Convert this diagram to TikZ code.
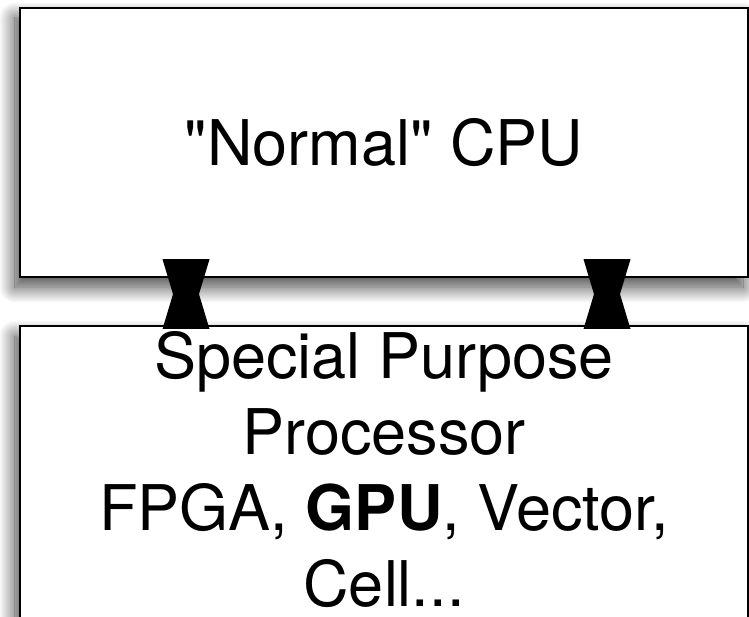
\documentclass[tikz,border=0pt]{standalone}
\usepackage{fontspec}
\setmainfont{TeX Gyre Heros}
\usepackage{tikz}
\usetikzlibrary{positioning,calc,shadows.blur}
\tikzset{
  box/.style={rectangle,draw=black,fill=white,line width=2.5pt,
              minimum width=728pt,align=center,
              font=\fontsize{63}{76}\selectfont,
              blur shadow={shadow xshift=-5pt,shadow yshift=-10pt,
                           shadow blur radius=16pt,shadow blur steps=20,
                           shadow opacity=75}},
  link/.style={fill=black},
}

\begin{document}
\begin{tikzpicture}[x=1pt,y=1pt]
  \useasboundingbox (0,0) rectangle (749,-617);
  \node[box,minimum height=269pt] (cpu) at (384,-142.5) {\textquotedbl Normal\textquotedbl{} CPU};
  \node[box,anchor=north,inner ysep=5pt] (spp) at (384,-325)
    {Special Purpose\\Processor\\FPGA, \textbf{GPU}, Vector,\\Cell...\rule[-60pt]{0pt}{0pt}};
  \coordinate (lx) at (186,0);
  \coordinate (rx) at (607,0);
  \foreach \c in {lx,rx}{
    \coordinate (t) at ($(cpu.south -| \c)+(0,19)$);
    \coordinate (b) at ($(spp.north -| \c)+(0,-4)$);
    \fill[link] ($(t)+(-23.5,0)$) -- ($(t)+(23.5,0)$) -- ($(t)!0.5!(b)+(13,0)$)
      -- ($(b)+(23.5,0)$) -- ($(b)+(-23.5,0)$) -- ($(t)!0.5!(b)+(-13,0)$) -- cycle;
  }
\end{tikzpicture}
\end{document}
